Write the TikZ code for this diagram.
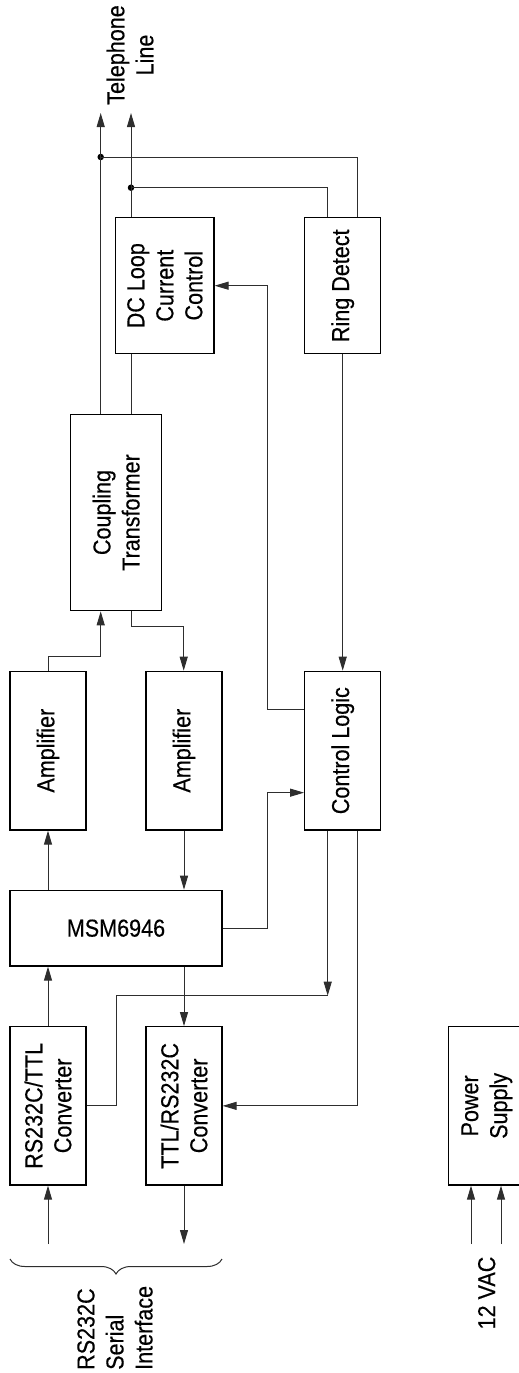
\documentclass[tikz,border=0pt]{standalone}
\usepackage{fontspec}
\setmainfont[FakeStretch=0.88,FakeBold=0.35]{Liberation Sans}
\usetikzlibrary{arrows.meta,decorations.pathreplacing}
\newcommand\diafont{\fontsize{24.5}{29}\selectfont}
\tikzset{
  box/.style={draw=black, line width=1.2pt, inner sep=0pt},
  lbl/.style={font=\diafont, align=center, inner sep=0pt},
  wire/.style={draw=black!82, line width=1pt},
  arr/.style={wire, -{Triangle[length=14pt,width=8pt]}},
  jdot/.style={circle, fill=black, inner sep=0pt, minimum size=6.5pt},
}
\begin{document}
\begin{tikzpicture}[x=1pt,y=-1pt]
\useasboundingbox (0,0) rectangle (519,1373);
% boxes
\node[box, minimum width=98.3pt, minimum height=136pt,
  label={[lbl,rotate=90]center:DC Loop\\Current\\Control}] (DCL) at (164.85,285.7) {};
\node[box, minimum width=76pt, minimum height=136pt,
  label={[lbl,rotate=90]center:Ring Detect}] (RD) at (342.7,285.7) {};
\node[box, minimum width=91pt, minimum height=196.4pt,
  label={[lbl,rotate=90]center:Coupling\\Transformer}] (CT) at (116.2,512.5) {};
\node[box, minimum width=76pt, minimum height=158.7pt,
  label={[lbl,rotate=90]center:Amplifier}] (A1) at (48,750.65) {};
\node[box, minimum width=76pt, minimum height=158.7pt,
  label={[lbl,rotate=90]center:Amplifier}] (A2) at (184,750.65) {};
\node[box, minimum width=76pt, minimum height=158.7pt,
  label={[lbl,rotate=90]center:Control Logic}] (CL) at (342.7,750.65) {};
\node[box, minimum width=212pt, minimum height=75.7pt,
  label={[lbl]center:MSM6946}] (MSM) at (116,928.15) {};
\node[box, minimum width=76pt, minimum height=158.3pt,
  label={[lbl,rotate=90]center:RS232C/TTL\\Converter}] (RT) at (48,1105.85) {};
\node[box, minimum width=76pt, minimum height=158.3pt,
  label={[lbl,rotate=90]center:TTL/RS232C\\Converter}] (TR) at (184,1105.85) {};
\node[box, minimum width=77pt, minimum height=158.3pt,
  label={[lbl,rotate=90]center:Power\\Supply}] (PS) at (486.8,1105.85) {};
% outside labels
\node[lbl, rotate=90] (tel) at (130,55) {Telephone\\Line};
\node[lbl, rotate=90, anchor=west, align=left] (rs) at (115,1370) {RS232C\\Serial\\Interface};
\node[lbl, rotate=90] (vac) at (486.7,1293) {12 VAC};
% helper coordinates
\coordinate (tipL) at (100.7,113);
\coordinate (tipR) at (131,113);
\coordinate (xE) at (267,0);
\coordinate (xF) at (327.7,0);
\coordinate (xH) at (357.7,0);
\coordinate (xI) at (116.3,0);
\coordinate (j1) at (100.7,656.3);
\coordinate (j2) at (183.7,626);
\coordinate (j4) at (327.7,995.7);
\coordinate (c1) at ([yshift=41.35pt]CL.west);
\coordinate (c2) at ([yshift=-42pt]CL.west);
\coordinate (in1) at (48,1244);
\coordinate (out1) at (184,1244);
\coordinate (p1) at (471,1244);
\coordinate (p2) at (501,1244);
\node[jdot] (d1) at (100.7,157) {};
\node[jdot] (d2) at (131,187.7) {};
% telephone line
\draw[arr] (CT.north -| tipL) -- (tipL);
\draw[arr] (DCL.north -| tipR) -- (tipR);
\draw[wire] (CT.north -| tipR) -- (DCL.south -| tipR);
\draw[wire] (d1.center) -| (RD.north -| xH);
\draw[wire] (d2.center) -| (RD.north -| xF);
% ring detect / control logic / dc loop
\draw[arr] (RD.south) -- (CL.north);
\draw[arr] (c1) -| (xE |- DCL.east) -- (DCL.east);
% amplifiers / coupling
\draw[arr] (A1.north) |- (j1) -- (CT.south -| j1);
\draw[arr] (CT.south -| tipR) |- (j2) -- (A2.north -| j2);
\draw[arr] (MSM.north -| A1) -- (A1.south);
\draw[arr] (A2.south) -- (A2.south |- MSM.north);
\draw[arr] (MSM.east) -| (c2 -| xE) -- (c2);
% control logic outputs
\draw[arr] (CL.south -| j4) -- (j4);
\draw[wire] (RT.east) -| (xI |- j4) -- (j4);
\draw[arr] (CL.south -| xH) |- (TR.east);
% converters
\draw[arr] (MSM.south -| TR) -- (TR.north);
\draw[arr] (RT.north) -- (RT.north |- MSM.south);
\draw[arr] (in1) -- (RT.south);
\draw[arr] (TR.south) -- (out1);
\draw[arr] (p1) -- (PS.south -| p1);
\draw[arr] (p2) -- (PS.south -| p2);
% brace
\draw[wire, decorate, decoration={brace, amplitude=15pt}] (222,1259) -- (10,1259);
\end{tikzpicture}
\end{document}
